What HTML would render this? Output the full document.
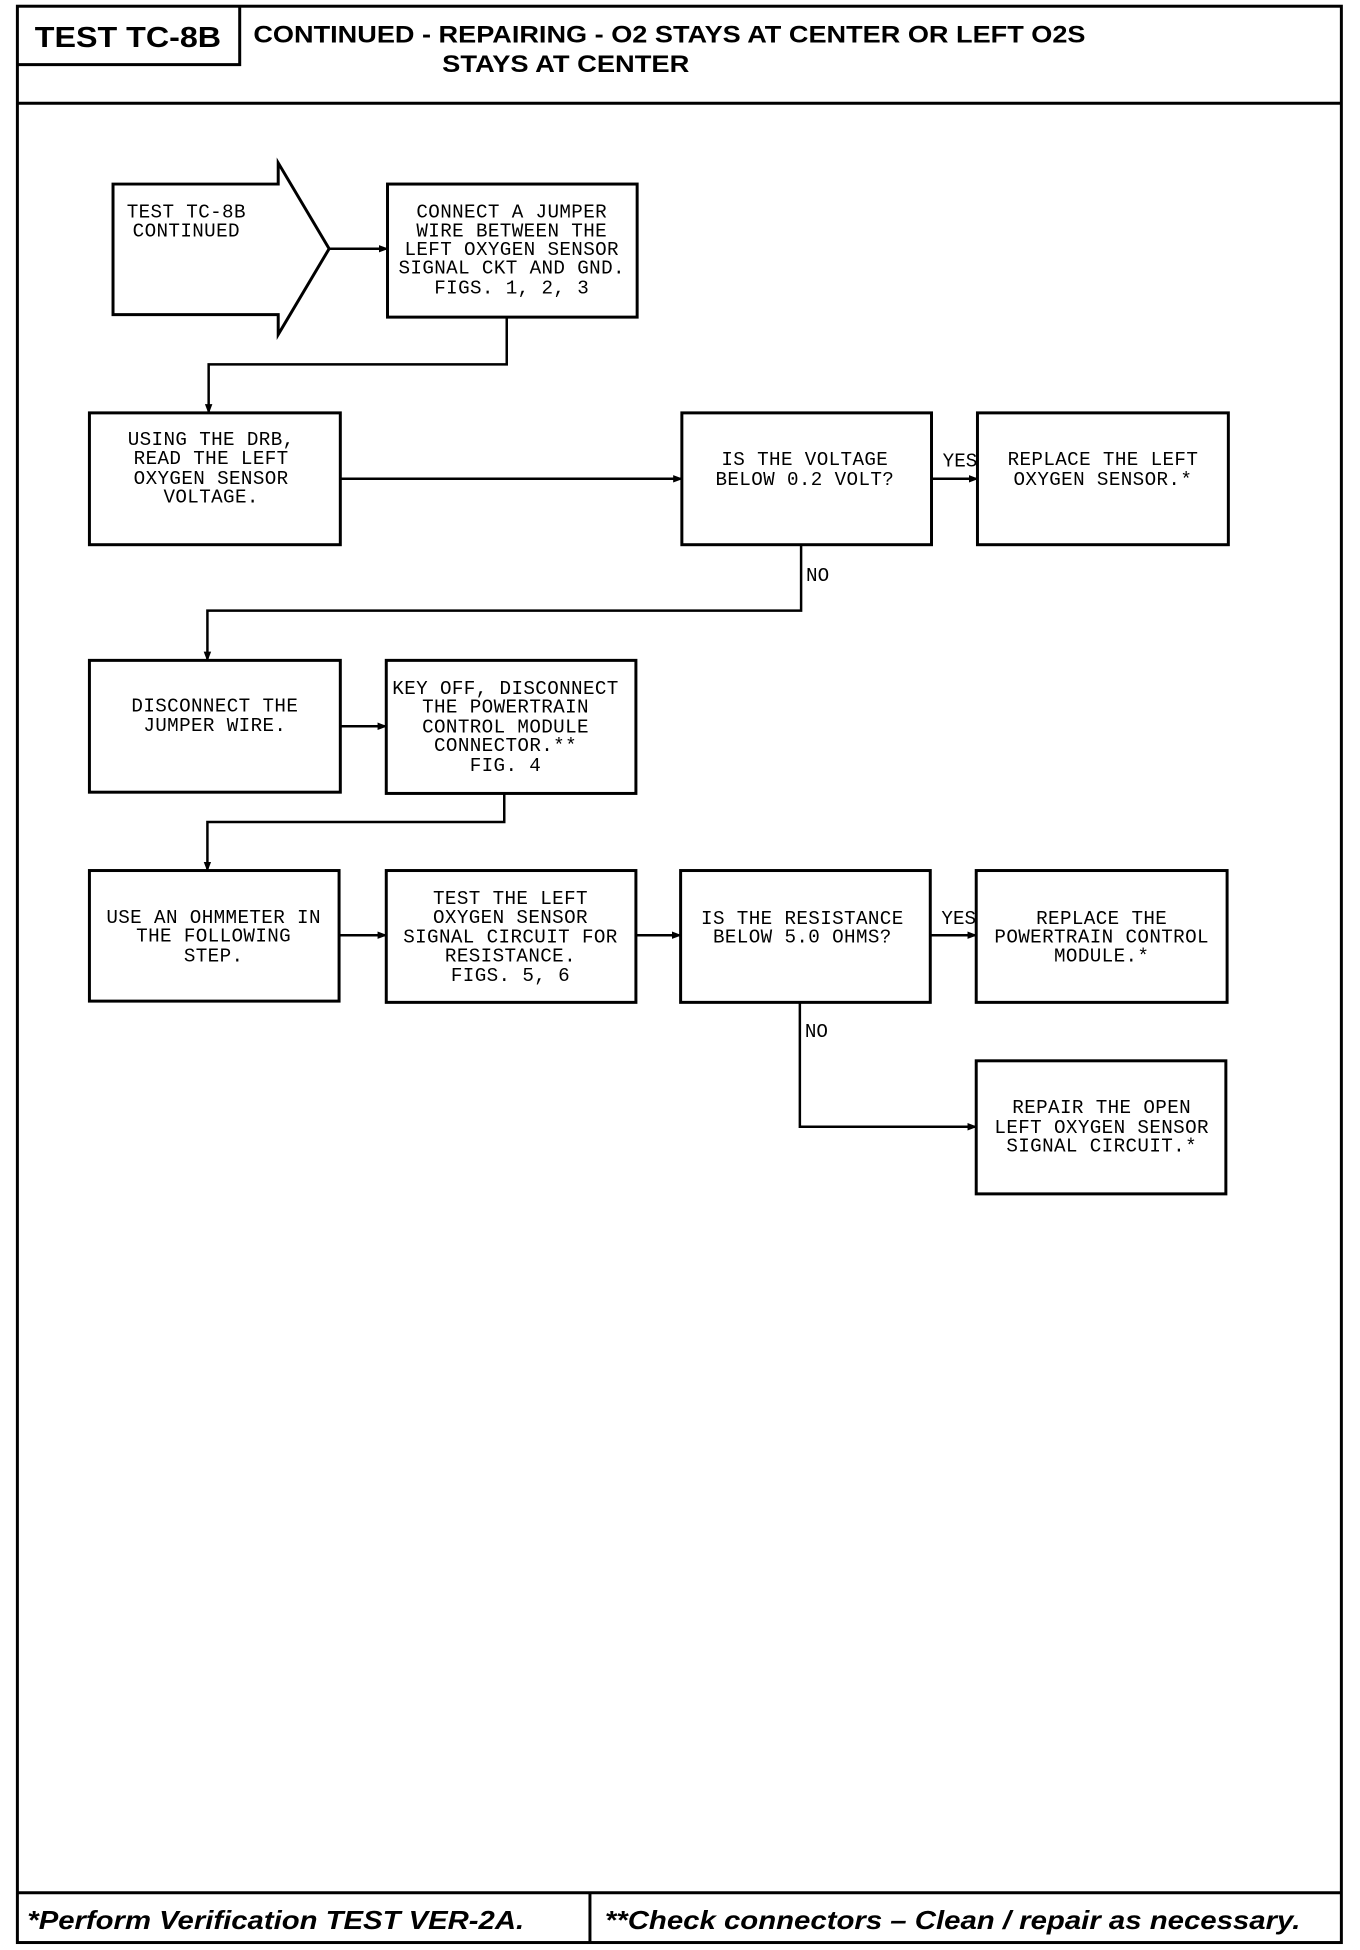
<!DOCTYPE html>
<html><head><meta charset="utf-8"><style>
html,body{margin:0;padding:0;background:#fff;width:1360px;height:1950px;overflow:hidden}
svg{display:block}
.b{fill:none;stroke:#000;stroke-width:2.4}
.l{fill:none;stroke:#000;stroke-width:2}
.t{font-family:"Liberation Mono",monospace;font-size:15.5px;text-anchor:middle;fill:#000;letter-spacing:0.3px}
.lbl{font-family:"Liberation Mono",monospace;font-size:15.5px;fill:#000}
.h{font-family:"Liberation Sans",sans-serif;font-weight:bold;fill:#000}
.f{font-family:"Liberation Sans",sans-serif;font-weight:bold;font-style:italic;font-size:21px;fill:#000}
</style></head><body>
<svg width="1360" height="1950" viewBox="0 0 1095 1568" preserveAspectRatio="none">
<defs><marker id="a" markerWidth="8" markerHeight="8" refX="7" refY="4" orient="auto" markerUnits="userSpaceOnUse"><path d="M0,1 L8,4 L0,7 z" fill="#000"/></marker></defs>
<!-- frame -->
<rect x="14" y="5" width="1066" height="1557" class="b" stroke-width="3"/>
<line x1="14" y1="83" x2="1080" y2="83" class="b" stroke-width="3.5"/>
<polyline points="14,52 193,52 193,5" class="b"/>
<line x1="14" y1="1522" x2="1080" y2="1522" class="b" stroke-width="3"/>
<line x1="475" y1="1522" x2="475" y2="1562" class="b"/>
<text x="28" y="38" class="h" font-size="23" textLength="150" lengthAdjust="spacingAndGlyphs">TEST TC-8B</text>
<text x="204" y="34" class="h" font-size="19" textLength="670" lengthAdjust="spacingAndGlyphs">CONTINUED -  REPAIRING - O2 STAYS AT CENTER OR LEFT O2S</text>
<text x="356" y="58" class="h" font-size="19" textLength="199" lengthAdjust="spacingAndGlyphs">STAYS AT CENTER</text>
<text x="22" y="1551" class="f" textLength="400" lengthAdjust="spacingAndGlyphs">*Perform Verification TEST VER-2A.</text>
<text x="487" y="1551" class="f" textLength="560" lengthAdjust="spacingAndGlyphs">**Check connectors – Clean / repair as necessary.</text>

<!-- start arrow -->
<polygon points="91,148 224,148 224,131 265,200 224,269 224,253 91,253" class="b"/>
<text x="150" y="175" class="t">TEST TC-8B</text>
<text x="150" y="190" class="t">CONTINUED</text>
<line x1="265" y1="200" x2="312" y2="200" class="l" marker-end="url(#a)"/>

<rect x="312" y="148" width="201" height="107" class="b"/>
<text class="t" x="412" y="175">CONNECT A JUMPER</text>
<text class="t" x="412" y="190">WIRE BETWEEN THE</text>
<text class="t" x="412" y="205">LEFT OXYGEN SENSOR</text>
<text class="t" x="412" y="220">SIGNAL CKT AND GND.</text>
<text class="t" x="412" y="236">FIGS. 1, 2, 3</text>
<polyline points="408,255 408,293 168,293 168,332" class="l" marker-end="url(#a)"/>

<rect x="72" y="332" width="202" height="106" class="b"/>
<text class="t" x="170" y="358">USING THE DRB,</text>
<text class="t" x="170" y="373">READ THE LEFT</text>
<text class="t" x="170" y="389">OXYGEN SENSOR</text>
<text class="t" x="170" y="404">VOLTAGE.</text>
<line x1="274" y1="385" x2="549" y2="385" class="l" marker-end="url(#a)"/>

<rect x="549" y="332" width="201" height="106" class="b"/>
<text class="t" x="648" y="374">IS THE VOLTAGE</text>
<text class="t" x="648" y="390">BELOW 0.2 VOLT?</text>
<line x1="750" y1="385" x2="787" y2="385" class="l" marker-end="url(#a)"/>
<text class="lbl" x="759" y="375">YES</text>

<rect x="787" y="332" width="202" height="106" class="b"/>
<text class="t" x="888" y="374">REPLACE THE LEFT</text>
<text class="t" x="888" y="390">OXYGEN SENSOR.*</text>
<polyline points="645,438 645,491 167,491 167,531" class="l" marker-end="url(#a)"/>
<text class="lbl" x="649" y="467">NO</text>

<rect x="72" y="531" width="202" height="106" class="b"/>
<text class="t" x="173" y="572">DISCONNECT THE</text>
<text class="t" x="173" y="588">JUMPER WIRE.</text>
<line x1="274" y1="584" x2="311" y2="584" class="l" marker-end="url(#a)"/>

<rect x="311" y="531" width="201" height="107" class="b"/>
<text class="t" x="407" y="558">KEY OFF, DISCONNECT</text>
<text class="t" x="407" y="573">THE POWERTRAIN</text>
<text class="t" x="407" y="589">CONTROL MODULE</text>
<text class="t" x="407" y="604">CONNECTOR.**</text>
<text class="t" x="407" y="620">FIG. 4</text>
<polyline points="406,638 406,661 167,661 167,700" class="l" marker-end="url(#a)"/>

<rect x="72" y="700" width="201" height="105" class="b"/>
<text class="t" x="172" y="742">USE AN OHMMETER IN</text>
<text class="t" x="172" y="757">THE FOLLOWING</text>
<text class="t" x="172" y="773">STEP.</text>
<line x1="273" y1="752" x2="311" y2="752" class="l" marker-end="url(#a)"/>

<rect x="311" y="700" width="201" height="106" class="b"/>
<text class="t" x="411" y="727">TEST THE LEFT</text>
<text class="t" x="411" y="742">OXYGEN SENSOR</text>
<text class="t" x="411" y="758">SIGNAL CIRCUIT FOR</text>
<text class="t" x="411" y="773">RESISTANCE.</text>
<text class="t" x="411" y="789">FIGS. 5, 6</text>
<line x1="512" y1="752" x2="548" y2="752" class="l" marker-end="url(#a)"/>

<rect x="548" y="700" width="201" height="106" class="b"/>
<text class="t" x="646" y="743">IS THE RESISTANCE</text>
<text class="t" x="646" y="758">BELOW 5.0 OHMS?</text>
<line x1="749" y1="752" x2="786" y2="752" class="l" marker-end="url(#a)"/>
<text class="lbl" x="758" y="743">YES</text>

<rect x="786" y="700" width="202" height="106" class="b"/>
<text class="t" x="887" y="743">REPLACE THE</text>
<text class="t" x="887" y="758">POWERTRAIN CONTROL</text>
<text class="t" x="887" y="773">MODULE.*</text>
<polyline points="644,806 644,906 786,906" class="l" marker-end="url(#a)"/>
<text class="lbl" x="648" y="834">NO</text>

<rect x="786" y="853" width="201" height="107" class="b"/>
<text class="t" x="887" y="895">REPAIR THE OPEN</text>
<text class="t" x="887" y="911">LEFT OXYGEN SENSOR</text>
<text class="t" x="887" y="926">SIGNAL CIRCUIT.*</text>
</svg>
</body></html>
